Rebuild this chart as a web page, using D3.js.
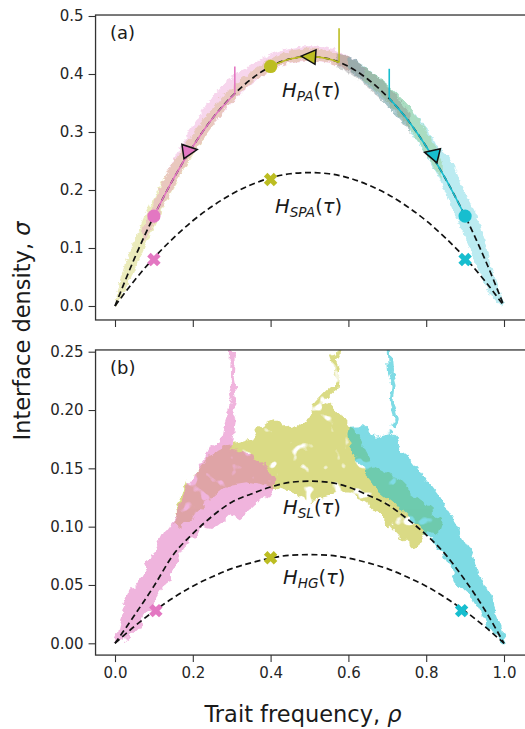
<!DOCTYPE html>
<html>
<head>
<meta charset="utf-8">
<script src="https://cdn.jsdelivr.net/npm/d3@7"></script>
<style>
  html, body { margin: 0; padding: 0; background: #fff; }
  svg { display: block; font-family: "DejaVu Sans", sans-serif; }
</style>
</head>
<body>
<svg id="chart" width="525" height="729"></svg>
<script>
// ---------- data ----------
const rhoGrid = [0,0.05,0.1,0.15,0.2,0.25,0.3,0.35,0.4,0.45,0.5,0.55,0.6,0.65,0.7,0.75,0.8,0.85,0.9,0.95,1];
// mean-field curves, panel (a)
const hPA  = [0,0.082,0.155,0.219,0.275,0.323,0.361,0.391,0.413,0.426,0.43,0.426,0.413,0.391,0.361,0.323,0.275,0.219,0.155,0.082,0];
const hSPA = [0,0.044,0.083,0.117,0.147,0.172,0.193,0.209,0.221,0.228,0.23,0.228,0.221,0.209,0.193,0.172,0.147,0.117,0.083,0.044,0];
// mean-field curves, panel (b)
const hSL  = [0,0.024,0.049,0.076,0.094,0.109,0.121,0.128,0.134,0.138,0.139,0.138,0.134,0.127,0.119,0.107,0.093,0.076,0.054,0.029,0];
const hHG  = [0,0.0145,0.0275,0.039,0.049,0.057,0.064,0.069,0.073,0.0755,0.076,0.0755,0.073,0.069,0.064,0.057,0.049,0.039,0.0275,0.0145,0];

// deterministic trajectories in (a): [rho, sigma] along the curve, then the final jump
const pinkPathA  = [[0.1,0.155],[0.15,0.219],[0.2,0.275],[0.25,0.323],[0.308,0.366]];
const pinkJumpA  = [[0.308,0.366],[0.308,0.413]];
const olivePathA = [[0.4,0.413],[0.45,0.426],[0.5,0.43],[0.55,0.426],[0.576,0.42]];
const oliveJumpA = [[0.576,0.42],[0.576,0.479]];
const cyanPathA  = [[0.705,0.358],[0.75,0.323],[0.8,0.275],[0.85,0.219],[0.9,0.155]];
const cyanJumpA  = [[0.705,0.358],[0.705,0.409]];

// markers
const dotRhoA = [0.1,0.4,0.9],   dotSigA = [0.155,0.413,0.155];
const triRhoA = [0.193,0.497,0.814], triSigA = [0.268,0.43,0.262], triDirA = [">","<","<"], triTiltA = [-8,4,14];
const crossRhoA = [0.1,0.4,0.9], crossSigA = [0.08,0.218,0.08];
const crossRhoB = [0.105,0.4,0.891], crossSigB = [0.028,0.0733,0.028];

// stochastic runs in (a): [rho, lower sigma, upper sigma]
const bandOliveA = [[0,0,0.004],[0.02,0.02,0.06],[0.05,0.062,0.112],[0.08,0.108,0.16],[0.11,0.15,0.2],[0.14,0.19,0.238],[0.17,0.228,0.27],[0.2,0.26,0.298],[0.25,0.31,0.34],[0.3,0.352,0.377],[0.35,0.384,0.404],[0.4,0.406,0.426],[0.45,0.42,0.44],[0.5,0.424,0.444],[0.55,0.42,0.44],[0.6,0.406,0.428],[0.65,0.384,0.408],[0.7,0.352,0.382],[0.75,0.312,0.348],[0.8,0.262,0.302],[0.84,0.218,0.25]];
const bandPinkA  = [[0.07,0.105,0.13],[0.1,0.142,0.178],[0.13,0.18,0.225],[0.16,0.218,0.265],[0.2,0.262,0.31],[0.25,0.31,0.362],[0.3,0.35,0.395],[0.35,0.382,0.415],[0.4,0.405,0.434],[0.45,0.419,0.445],[0.5,0.423,0.448],[0.55,0.419,0.445],[0.6,0.405,0.43],[0.64,0.388,0.412]];
const bandGrayA  = [[0.57,0.412,0.436],[0.6,0.402,0.43],[0.64,0.382,0.413],[0.68,0.358,0.392],[0.72,0.33,0.365],[0.76,0.298,0.33]];
const bandCyanA  = [[0.6,0.406,0.43],[0.64,0.386,0.414],[0.68,0.36,0.394],[0.72,0.33,0.37],[0.76,0.3,0.34],[0.8,0.258,0.307],[0.83,0.225,0.275],[0.86,0.18,0.255],[0.9,0.118,0.195],[0.94,0.054,0.138],[0.97,0.016,0.06],[1.0,0,0.004]];

// stochastic runs in (b): outlines [rho, sigma]
const pinkCloudB = [[0,0],[0.02,0.03],[0.04,0.045],[0.0625,0.055],[0.09,0.072],[0.11,0.085],[0.13,0.098],[0.148,0.106],[0.165,0.118],[0.185,0.133],[0.2,0.14],[0.215,0.152],[0.234,0.16],[0.25,0.17],[0.27,0.174],[0.29,0.17],[0.31,0.168],[0.34,0.163],[0.37,0.158],[0.395,0.15],[0.415,0.14],[0.41,0.13],[0.39,0.125],[0.365,0.12],[0.34,0.112],[0.32,0.106],[0.3,0.11],[0.28,0.104],[0.255,0.098],[0.225,0.1],[0.2,0.09],[0.175,0.08],[0.15,0.066],[0.131,0.051],[0.11,0.04],[0.085,0.026],[0.06,0.014],[0.03,0.004],[0.01,0]];
const pinkKnotB  = [[0.27,0.165],[0.278,0.185],[0.29,0.196],[0.3,0.2],[0.31,0.19],[0.305,0.175],[0.3,0.165]];
const pinkRunB   = [[0.278,0.17],[0.287,0.184],[0.296,0.198],[0.308,0.212],[0.3,0.2265],[0.302,0.24],[0.304,0.256]];
const oliveCloudB = [[0.15,0.104],[0.16,0.118],[0.175,0.13],[0.19,0.14],[0.21,0.148],[0.235,0.158],[0.26,0.165],[0.29,0.17],[0.32,0.172],[0.35,0.175],[0.37,0.185],[0.39,0.19],[0.41,0.193],[0.43,0.188],[0.45,0.182],[0.47,0.184],[0.49,0.19],[0.51,0.2],[0.53,0.208],[0.55,0.205],[0.57,0.198],[0.59,0.195],[0.61,0.185],[0.63,0.175],[0.65,0.162],[0.67,0.15],[0.7,0.145],[0.73,0.14],[0.76,0.13],[0.79,0.122],[0.82,0.113],[0.84,0.104],[0.83,0.094],[0.8,0.096],[0.785,0.086],[0.767,0.081],[0.75,0.086],[0.733,0.091],[0.71,0.099],[0.69,0.107],[0.665,0.116],[0.645,0.121],[0.62,0.126],[0.59,0.129],[0.56,0.126],[0.53,0.124],[0.5,0.122],[0.47,0.126],[0.44,0.13],[0.41,0.133],[0.37,0.136],[0.33,0.138],[0.29,0.136],[0.26,0.128],[0.235,0.12],[0.21,0.113],[0.19,0.104],[0.17,0.098]];
const oliveRunB  = [[0.5,0.19],[0.518,0.204],[0.535,0.21],[0.55,0.215],[0.57,0.221],[0.574,0.232],[0.561,0.244],[0.57,0.248],[0.578,0.256]];
const cyanCloudB = [[1.007,0],[0.994,0.014],[0.968,0.037],[0.95,0.05],[0.934,0.06],[0.917,0.077],[0.895,0.09],[0.874,0.1026],[0.848,0.117],[0.831,0.128],[0.815,0.135],[0.797,0.142],[0.78,0.15],[0.763,0.157],[0.74,0.163],[0.724,0.175],[0.707,0.181],[0.673,0.178],[0.638,0.187],[0.604,0.1866],[0.6,0.178],[0.608,0.165],[0.621,0.158],[0.64,0.15],[0.643,0.145],[0.66,0.138],[0.677,0.131],[0.7,0.125],[0.72,0.12],[0.74,0.112],[0.763,0.105],[0.797,0.094],[0.831,0.0826],[0.857,0.068],[0.874,0.054],[0.9,0.045],[0.917,0.04],[0.935,0.03],[0.951,0.02],[0.975,0.008],[0.995,0]];
const cyanRunB   = [[0.716,0.184],[0.724,0.192],[0.711,0.2065],[0.716,0.221],[0.707,0.232],[0.703,0.256]];

const yTicksA = [0,0.1,0.2,0.3,0.4,0.5];
const yTicksB = [0,0.05,0.1,0.15,0.2,0.25];
const xTicks  = [0,0.2,0.4,0.6,0.8,1.0];

const C = { pink: "#e377c2", olive: "#bcbd22", cyan: "#17becf", gray: "#7f7f7f" };

// ---------- scales ----------
const svg = d3.select("#chart");
const x  = d3.scaleLinear().domain([0, 1]).range([115, 504]);
const yA = d3.scaleLinear().domain([0, 0.5]).range([306, 16]);
const yB = d3.scaleLinear().domain([0, 0.25]).range([643.3, 351.7]);

const fx0 = x(-0.05), fx1 = x(1.065);
const frameA = { top: yA(0.5017), bottom: yA(-0.0241) };
const frameB = { top: yB(0.2515), bottom: yB(-0.0101) };

// ---------- defs: clip + texture filters ----------
const defs = svg.append("defs");
defs.append("clipPath").attr("id", "clipA").append("rect")
  .attr("x", fx0).attr("y", frameA.top).attr("width", fx1 - fx0).attr("height", frameA.bottom - frameA.top);
defs.append("clipPath").attr("id", "clipB").append("rect")
  .attr("x", fx0).attr("y", frameB.top).attr("width", fx1 - fx0).attr("height", frameB.bottom - frameB.top);

function roughFilter(id, freq, scale, seed, holes) {
  const f = defs.append("filter").attr("id", id)
    .attr("x", "-10%").attr("y", "-10%").attr("width", "120%").attr("height", "120%");
  f.append("feTurbulence").attr("type", "fractalNoise").attr("baseFrequency", freq)
    .attr("numOctaves", 3).attr("seed", seed).attr("result", "noise");
  f.append("feDisplacementMap").attr("in", "SourceGraphic").attr("in2", "noise")
    .attr("scale", scale).attr("xChannelSelector", "R").attr("yChannelSelector", "G").attr("result", "moved");
  if (holes) {
    f.append("feTurbulence").attr("type", "fractalNoise").attr("baseFrequency", holes)
      .attr("numOctaves", 2).attr("seed", seed + 7).attr("result", "n2");
    f.append("feColorMatrix").attr("in", "n2").attr("type", "matrix")
      .attr("values", "0 0 0 0 1  0 0 0 0 1  0 0 0 0 1  12 0 0 0 -3.3").attr("result", "mask");
    f.append("feComposite").attr("in", "moved").attr("in2", "mask").attr("operator", "in");
  }
}
roughFilter("roughA", 0.22, 6, 3, null);
roughFilter("roughB", 0.09, 11, 5, 0.07);
roughFilter("roughBsolid", 0.09, 11, 5, null);

// ---------- helpers ----------
const curveLine = (ys) => d3.line().x(d => x(d[0])).y(d => ys(d[1])).curve(d3.curveMonotoneX);
const straight  = (ys) => d3.line().x(d => x(d[0])).y(d => ys(d[1]));
const band = d3.area().x(d => x(d[0])).y0(d => yA(d[1])).y1(d => yA(d[2])).curve(d3.curveMonotoneX);
const closed = d3.line().x(d => x(d[0])).y(d => yB(d[1])).curve(d3.curveLinearClosed);

function drawAxesFrame(g, ys, fr, ticks, fmt, withLabels) {
  g.append("g").attr("transform", `translate(${fx0},0)`)
    .call(d3.axisLeft(ys).tickValues(ticks).tickFormat(d3.format(fmt)).tickSize(7).tickPadding(5))
    .call(a => a.select(".domain").remove());
  const xa = d3.axisBottom(x).tickValues(xTicks).tickSize(7).tickPadding(5)
    .tickFormat(withLabels ? d3.format(".1f") : () => "");
  g.append("g").attr("transform", `translate(0,${fr.bottom})`).call(xa)
    .call(a => a.select(".domain").remove());
  g.selectAll(".tick line").attr("stroke", "#333").attr("stroke-width", 1.1);
  g.selectAll(".tick text").attr("fill", "#262626").attr("font-size", 15)
    .attr("font-family", "DejaVu Sans, sans-serif");
  g.append("rect").attr("x", fx0).attr("y", fr.top).attr("width", fx1 - fx0).attr("height", fr.bottom - fr.top)
    .attr("fill", "none").attr("stroke", "#333").attr("stroke-width", 1.3);
}

function dashed(g, ys, vals) {
  g.append("path").datum(rhoGrid.map((r, i) => [r, vals[i]]))
    .attr("d", curveLine(ys)).attr("fill", "none").attr("stroke", "#111")
    .attr("stroke-width", 1.7).attr("stroke-dasharray", "6,3.6");
}

function crossPath(s) {
  const w = 0.36;
  const pts = [[w,w],[w,1],[-w,1],[-w,w],[-1,w],[-1,-w],[-w,-w],[-w,-1],[w,-1],[w,-w],[1,-w],[1,w]];
  return "M" + pts.map(p => (p[0]*s).toFixed(2) + "," + (p[1]*s).toFixed(2)).join("L") + "Z";
}
function trianglePath(s, dir) {
  return dir === ">" ? `M${s},0L${-s},${-s}L${-s},${s}Z` : `M${-s},0L${s},${-s}L${s},${s}Z`;
}
const markColors = [C.pink, C.olive, C.cyan];

function crosses(g, ys, rhos, sigs) {
  g.selectAll(null).data(rhos).join("path")
    .attr("d", crossPath(7))
    .attr("transform", (d, i) => `translate(${x(d)},${ys(sigs[i])}) rotate(45)`)
    .attr("fill", (d, i) => markColors[i]);
}

function mathLabel(g, px, py, sub) {
  const t = g.append("text").attr("x", px).attr("y", py).attr("font-size", 19.5).attr("fill", "#1a1a1a");
  t.append("tspan").attr("font-style", "italic").text("H");
  t.append("tspan").attr("font-style", "italic").attr("font-size", 13.6).attr("dy", 4).text(sub);
  t.append("tspan").attr("dy", -4).text("(");
  t.append("tspan").attr("font-style", "italic").text("\u03C4");
  t.append("tspan").text(")");
}

// ---------- panel (a) ----------
const gA = svg.append("g");
const runsA = gA.append("g").attr("clip-path", "url(#clipA)").append("g").attr("filter", "url(#roughA)");
runsA.append("path").datum(bandOliveA).attr("d", band).attr("fill", C.olive).attr("opacity", 0.3);
runsA.append("path").datum(bandPinkA).attr("d", band).attr("fill", C.pink).attr("opacity", 0.3);
runsA.append("path").datum(bandCyanA).attr("d", band).attr("fill", C.cyan).attr("opacity", 0.3);
runsA.append("path").datum(bandGrayA).attr("d", band).attr("fill", C.gray).attr("opacity", 0.36);

dashed(gA, yA, hPA);
dashed(gA, yA, hSPA);

[[pinkPathA, pinkJumpA, C.pink], [olivePathA, oliveJumpA, C.olive], [cyanPathA, cyanJumpA, C.cyan]]
  .forEach(([path, jump, col]) => {
    gA.append("path").datum(path).attr("d", curveLine(yA)).attr("fill", "none").attr("stroke", col).attr("stroke-width", 1.6);
    gA.append("path").datum(jump).attr("d", straight(yA)).attr("fill", "none").attr("stroke", col).attr("stroke-width", 1.6);
  });

gA.selectAll(null).data(dotRhoA).join("circle")
  .attr("cx", d => x(d)).attr("cy", (d, i) => yA(dotSigA[i])).attr("r", 6.6)
  .attr("fill", (d, i) => markColors[i]);
gA.selectAll(null).data(triRhoA).join("path")
  .attr("d", (d, i) => trianglePath(7.2, triDirA[i]))
  .attr("transform", (d, i) => `translate(${x(d)},${yA(triSigA[i])}) rotate(${triTiltA[i]})`)
  .attr("fill", (d, i) => markColors[i]).attr("stroke", "#111").attr("stroke-width", 1.5).attr("stroke-linejoin", "miter");
crosses(gA, yA, crossRhoA, crossSigA);

mathLabel(gA, 282, 97, "PA");
mathLabel(gA, 275, 213, "SPA");
gA.append("text").attr("x", 110).attr("y", 39).attr("font-size", 18).attr("fill", "#1a1a1a").text("(a)");
drawAxesFrame(gA, yA, frameA, yTicksA, ".1f", false);

// ---------- panel (b) ----------
const gB = svg.append("g");
const runsB = gB.append("g").attr("clip-path", "url(#clipB)");
const olG = runsB.append("g").attr("opacity", 0.55).attr("filter", "url(#roughB)");
olG.append("path").datum(oliveCloudB).attr("d", closed).attr("fill", C.olive);
olG.append("path").datum(oliveRunB).attr("d", straight(yB)).attr("fill", "none").attr("stroke", C.olive).attr("stroke-width", 4);
const piG = runsB.append("g").attr("opacity", 0.55).attr("filter", "url(#roughBsolid)");
piG.append("path").datum(pinkCloudB).attr("d", closed).attr("fill", C.pink);
piG.append("path").datum(pinkKnotB).attr("d", closed).attr("fill", C.pink);
piG.append("path").datum(pinkRunB).attr("d", straight(yB)).attr("fill", "none").attr("stroke", C.pink).attr("stroke-width", 4);
const cyG = runsB.append("g").attr("opacity", 0.55).attr("filter", "url(#roughBsolid)");
cyG.append("path").datum(cyanCloudB).attr("d", closed).attr("fill", C.cyan);
cyG.append("path").datum(cyanRunB).attr("d", straight(yB)).attr("fill", "none").attr("stroke", C.cyan).attr("stroke-width", 4);

dashed(gB, yB, hSL);
dashed(gB, yB, hHG);
crosses(gB, yB, crossRhoB, crossSigB);

mathLabel(gB, 283, 514, "SL");
mathLabel(gB, 283, 584, "HG");
gB.append("text").attr("x", 110).attr("y", 374).attr("font-size", 18).attr("fill", "#1a1a1a").text("(b)");
drawAxesFrame(gB, yB, frameB, yTicksB, ".2f", true);

// ---------- shared axis titles ----------
const xt = svg.append("text").attr("x", 303).attr("y", 722).attr("text-anchor", "middle")
  .attr("font-size", 22.5).attr("fill", "#1a1a1a");
xt.append("tspan").text("Trait frequency, ");
xt.append("tspan").attr("font-style", "italic").text("\u03C1");

const yt = svg.append("text").attr("transform", "translate(30,331) rotate(-90)").attr("text-anchor", "middle")
  .attr("font-size", 22.5).attr("fill", "#1a1a1a");
yt.append("tspan").text("Interface density, ");
yt.append("tspan").attr("font-style", "italic").text("\u03C3");
</script>
</body>
</html>
